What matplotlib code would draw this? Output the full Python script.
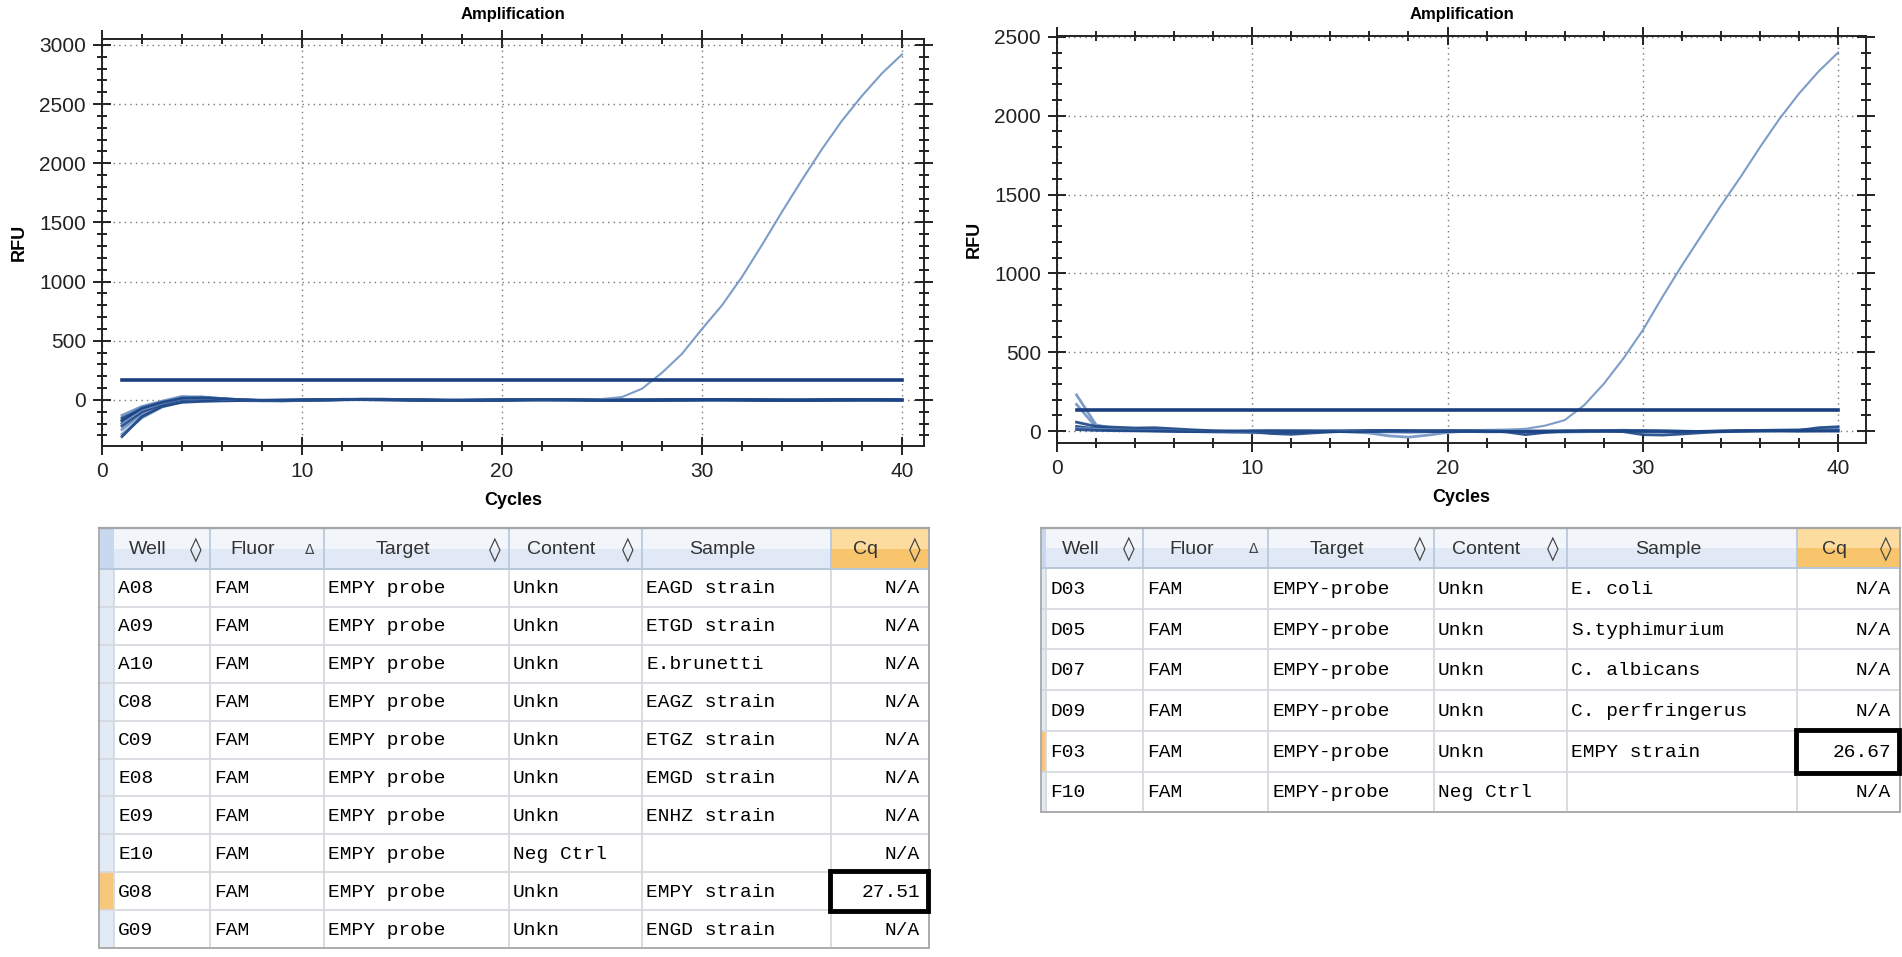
import matplotlib
matplotlib.use("Agg")
import matplotlib.pyplot as plt
from matplotlib.patches import Rectangle
from matplotlib.ticker import MultipleLocator

# ---------------- data ----------------
cycles = list(range(1, 41))

left_wells = ["A08", "A09", "A10", "C08", "C09", "E08", "E09", "E10", "G08", "G09"]
left_curves = {
    "A08": [-150,-60,-20,5,8,2,-3,-5,-2,2,4,5,3,0,-2,-4,-3,0,2,3,1,-2,-4,-3,0,2,4,3,0,-2,-3,-1,1,2,0,-2,-3,-1,0,1],
    "A09": [-290,-150,-60,-15,-8,-5,-4,-2,0,1,2,3,2,1,0,-1,-2,-1,0,1,3,2,0,-1,-3,-2,0,1,2,1,-1,-2,-3,-2,0,2,3,2,0,-1],
    "A10": [-200,-90,-30,20,25,12,2,-4,-6,-3,0,3,5,6,4,1,-2,-5,-6,-4,-1,2,4,5,3,0,-3,-5,-4,-1,2,4,5,3,0,-2,-4,-3,-1,1],
    "C08": [-250,-120,-45,-5,0,-2,-6,-8,-5,-1,3,6,7,5,2,-1,-3,-2,1,4,5,3,0,-3,-5,-4,-1,2,3,2,0,-2,-3,-2,1,3,4,2,0,-1],
    "C09": [-180,-75,-25,10,15,8,0,-5,-7,-4,-1,2,4,3,1,-2,-4,-4,-2,1,3,4,2,-1,-3,-4,-2,1,3,4,2,0,-2,-3,-1,1,2,1,-1,-2],
    "E08": [-310,-140,-55,-20,-12,-8,-5,-3,-1,0,1,2,3,3,2,0,-2,-3,-2,0,2,3,3,1,-1,-2,-2,0,2,3,2,0,-1,-2,-1,0,2,2,1,0],
    "E09": [-130,-55,-10,30,22,10,1,-6,-8,-5,-2,2,5,6,4,1,-2,-4,-5,-3,0,3,5,4,1,-2,-4,-5,-3,0,3,5,4,2,-1,-3,-4,-2,0,2],
    "E10": [-220,-100,-35,5,10,4,-2,-5,-4,-2,1,4,6,5,3,0,-3,-5,-4,-2,1,3,4,3,0,-3,-4,-3,-1,2,4,4,2,-1,-3,-3,-1,1,2,1],
    "G08": [-200,-85,-30,8,12,5,-1,-4,-5,-3,0,3,5,4,2,-1,-3,-4,-2,0,2,3,4,5,8,25,95,230,390,600,800,1040,1310,1590,1860,2120,2360,2570,2760,2920],
    "G09": [-170,-70,-20,15,18,9,1,-3,-4,-2,0,3,4,4,2,-1,-3,-4,-3,-1,2,4,4,2,-1,-3,-3,-1,1,3,3,1,-1,-2,-2,0,1,2,1,0],
}
left_threshold = 170

right_wells = ["D03", "D05", "D07", "D09", "F03", "F10"]
right_curves = {
    "D03": [230,40,15,12,10,8,5,0,-5,-10,-8,-3,2,5,3,-2,-5,-8,-4,0,3,5,2,-3,-6,-4,0,4,6,3,-1,-4,-3,0,2,5,8,10,12,15],
    "D05": [170,25,10,5,3,0,-3,-6,-8,-5,-2,3,5,2,-4,-12,-30,-38,-25,-8,0,3,5,2,-2,-5,-4,0,3,5,4,1,-2,-4,-2,1,3,5,6,8],
    "D07": [57,30,25,20,22,15,8,3,0,-2,-4,-6,-3,0,2,4,2,-1,-3,-2,0,2,-5,-22,-8,0,3,2,0,-3,-5,-4,-1,2,4,3,1,0,2,4],
    "D09": [30,15,8,5,4,2,0,-2,-3,-5,-15,-20,-12,-5,0,3,5,4,2,0,-2,-4,-3,0,2,3,1,-1,-3,-22,-25,-18,-10,-3,0,2,3,5,22,28],
    "F03": [20,15,10,8,5,3,1,-1,-2,-1,0,2,3,2,0,-2,-3,-1,1,3,5,8,10,15,35,70,165,300,460,640,850,1050,1240,1430,1610,1800,1980,2140,2280,2400],
    "F10": [10,5,3,2,0,-2,-3,-1,1,3,4,2,0,-2,-4,-3,-1,1,3,4,3,1,-1,-3,-4,-2,0,2,4,3,1,-1,-2,-1,1,2,3,2,1,0],
}
right_threshold = 133

table_columns = ["Well", "Fluor", "Target", "Content", "Sample", "Cq"]
column_symbols = ["\u25CA", "\u0394", "\u25CA", "\u25CA", "", "\u25CA"]

left_fluor = ["FAM"] * 10
left_target = ["EMPY probe"] * 10
left_content = ["Unkn", "Unkn", "Unkn", "Unkn", "Unkn", "Unkn", "Unkn", "Neg Ctrl", "Unkn", "Unkn"]
left_sample = ["EAGD strain", "ETGD strain", "E.brunetti", "EAGZ strain", "ETGZ strain",
               "EMGD strain", "ENHZ strain", "", "EMPY strain", "ENGD strain"]
left_cq = ["N/A", "N/A", "N/A", "N/A", "N/A", "N/A", "N/A", "N/A", "27.51", "N/A"]

right_fluor = ["FAM"] * 6
right_target = ["EMPY-probe"] * 6
right_content = ["Unkn", "Unkn", "Unkn", "Unkn", "Unkn", "Neg Ctrl"]
right_sample = ["E. coli", "S.typhimurium", "C. albicans", "C. perfringerus", "EMPY strain", ""]
right_cq = ["N/A", "N/A", "N/A", "N/A", "26.67", "N/A"]

# ---------------- figure ----------------
W, H = 1902, 957
fig = plt.figure(figsize=(W / 100, H / 100), dpi=100)
fig.patch.set_facecolor("white")

SANS = ["Liberation Sans", "DejaVu Sans"]
MONO = ["Liberation Mono", "DejaVu Sans Mono"]

def px_axes(l, t, r, b):
    return fig.add_axes([l / W, 1 - b / H, (r - l) / W, (b - t) / H])

DARK = "#1c4586"
LIGHT = "#6f93c2"

def style_chart(ax, xlim, ylim, l, r):
    ax.set_xlim(*xlim)
    ax.set_ylim(*ylim)
    ax.xaxis.set_major_locator(MultipleLocator(10))
    ax.xaxis.set_minor_locator(MultipleLocator(2))
    ax.yaxis.set_major_locator(MultipleLocator(500))
    ax.yaxis.set_minor_locator(MultipleLocator(100))
    ax.tick_params(which="both", direction="inout", top=True, right=True,
                   width=1.4, color="#222222", labelsize=15, labelcolor="#222222")
    ax.tick_params(which="major", length=13, pad=5)
    ax.tick_params(which="minor", length=7)
    for lab in ax.get_xticklabels() + ax.get_yticklabels():
        lab.set_family(SANS)
    for s in ax.spines.values():
        s.set_linewidth(1.4)
        s.set_color("#222222")
    ax.grid(True, which="major", linestyle=(0, (1, 3)), color="#777777", linewidth=1.0)
    ax.set_axisbelow(True)
    fig.text((l + r) / 2 / W, 1 - 15 / H, "Amplification", ha="center", va="center",
             fontsize=12, fontweight="bold", family=SANS)
    ax.set_xlabel("Cycles", fontsize=13, fontweight="bold", family=SANS, labelpad=8)
    ax.set_ylabel("RFU", fontsize=13, fontweight="bold", family=SANS, labelpad=8)

# Left chart
axL = px_axes(102, 39, 924, 446)
left_colors = [DARK, LIGHT, DARK, LIGHT, DARK, DARK, LIGHT, DARK, LIGHT, DARK]
for w, c in zip(left_wells, left_colors):
    lw = 1.5 if w == "G08" else 2.0
    axL.plot(cycles, left_curves[w], color=c, lw=lw, alpha=0.9, zorder=3)
axL.plot([1, 40], [left_threshold, left_threshold], color="#1b3f7e", lw=2.6, zorder=4)
style_chart(axL, (0, 41.1), (-389, 3050), 102, 924)

# Right chart
axR = px_axes(1057, 36, 1866, 443)
right_colors = [LIGHT, LIGHT, DARK, DARK, LIGHT, DARK]
for w, c in zip(right_wells, right_colors):
    lw = 1.5 if w == "F03" else 2.0
    axR.plot(cycles, right_curves[w], color=c, lw=lw, alpha=0.9, zorder=3)
axR.plot([1, 40], [right_threshold, right_threshold], color="#1b3f7e", lw=2.6, zorder=4)
style_chart(axR, (0, 41.43), (-75, 2505), 1057, 1866)

# ---------------- tables ----------------
tab = fig.add_axes([0, 0, 1, 1])
tab.set_xlim(0, W)
tab.set_ylim(H, 0)
tab.axis("off")

GRID = "#d6d9de"

def rect(x0, y0, x1, y1, fc, ec="none", lw=0, z=1):
    tab.add_patch(Rectangle((x0, y0), x1 - x0, y1 - y0, facecolor=fc,
                            edgecolor=ec, linewidth=lw, zorder=z))

def draw_table(edges, marker, top, hb, row_h, cols_data, cq_row, marker_fc):
    nrows = len(cols_data[0])
    bottom = hb + nrows * row_h
    left = marker[0]
    right = edges[-1]
    for i in range(len(edges) - 1):
        x0, x1 = edges[i], edges[i + 1]
        if table_columns[i] == "Cq":
            rect(x0, top, x1, (top + hb) / 2, "#fddca0")
            rect(x0, (top + hb) / 2, x1, hb, "#f8c56d")
        else:
            rect(x0, top, x1, (top + hb) / 2, "#f2f6fb")
            rect(x0, (top + hb) / 2, x1, hb, "#e0e9f5")
        tab.plot([x1, x1], [top, hb], color="#b5c5db", lw=1.2, zorder=2)
        sym = column_symbols[i]
        cx = (x0 + x1 - 28) / 2
        tab.text(cx, (top + hb) / 2 + 1, table_columns[i], ha="center", va="center",
                 fontsize=14, family=SANS, color="#333333", zorder=3)
        if sym:
            fs = 17 if sym == "\u25CA" else 10
            tab.text(x1 - 14, (top + hb) / 2 + 1, sym, ha="center", va="center",
                     fontsize=fs, family=["DejaVu Sans"], color="#444444", zorder=3)
    rect(marker[0], top, marker[1], hb, "#c8d8ee")
    for r in range(nrows):
        y0 = hb + r * row_h
        fc = marker_fc if r == cq_row else "#e2eaf5"
        rect(marker[0], y0, marker[1], y0 + row_h, fc)
    for r in range(nrows + 1):
        y = hb + r * row_h
        tab.plot([left, right], [y, y], color=GRID, lw=1.3, zorder=2)
    for x in edges:
        tab.plot([x, x], [hb, bottom], color=GRID, lw=1.3, zorder=2)
    tab.plot([left, right], [top, top], color="#8c8c8c", lw=1.6, zorder=3)
    tab.plot([left, right], [hb, hb], color="#b5c5db", lw=1.3, zorder=3)
    tab.add_patch(Rectangle((left, top), right - left, bottom - top, fill=False,
                            edgecolor="#a9a9a9", lw=1.3, zorder=3))
    for r in range(nrows):
        yc = hb + (r + 0.5) * row_h + 1
        for i, col in enumerate(cols_data):
            txt = col[r]
            if table_columns[i] == "Cq":
                tab.text(edges[i + 1] - 9, yc, txt, ha="right", va="center",
                         fontsize=14, family=MONO, color="#000000", zorder=4)
            else:
                tab.text(edges[i] + 4, yc, txt, ha="left", va="center",
                         fontsize=14, family=MONO, color="#000000", zorder=4)
    y0 = hb + cq_row * row_h
    tab.add_patch(Rectangle((edges[-2] - 1, y0 - 1), edges[-1] - edges[-2], row_h + 2,
                            fill=False, edgecolor="black", lw=3.5, zorder=5))

draw_table([114, 210, 324, 509, 642, 831, 929], (99, 114), 528, 569, 37.9,
           [left_wells, left_fluor, left_target, left_content, left_sample, left_cq],
           left_cq.index("27.51"), "#f9c77c")

draw_table([1046, 1143, 1268, 1434, 1567, 1797, 1900], (1041, 1046), 528, 568, 40.7,
           [right_wells, right_fluor, right_target, right_content, right_sample, right_cq],
           right_cq.index("26.67"), "#f9c77c")

fig.savefig("out.png", dpi=100, facecolor="white")
